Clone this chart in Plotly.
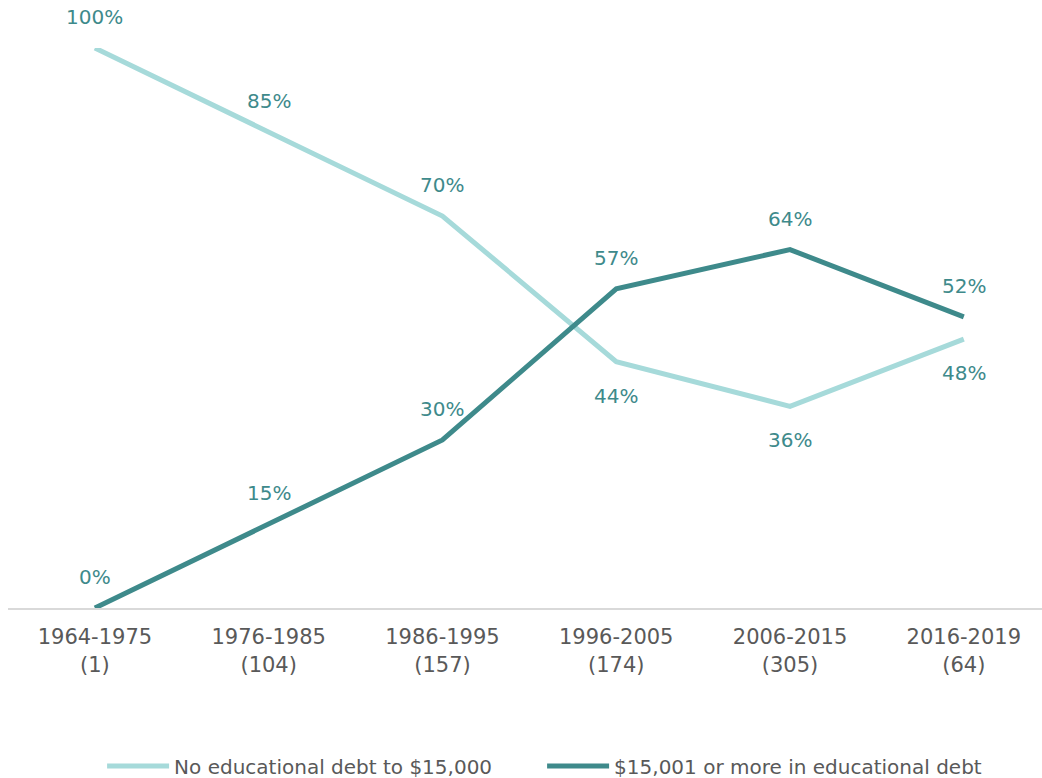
import plotly.graph_objects as go

categories = ["1964-1975<br>(1)", "1976-1985<br>(104)", "1986-1995<br>(157)",
              "1996-2005<br>(174)", "2006-2015<br>(305)", "2016-2019<br>(64)"]
no_debt = [100, 85, 70, 44, 36, 48]
debt_15k = [0, 15, 30, 57, 64, 52]
no_debt_label_side = [1, 1, 1, -1, -1, -1]   # 1 = above, -1 = below
debt_label_side = [1, 1, 1, 1, 1, 1]

light = "#a6dada"
dark = "#3e8a8b"
label_color = "#3e8a8b"
grey = "#595959"
FONT = "DejaVu Sans"

fig = go.Figure()
fig.add_trace(go.Scatter(x=categories, y=no_debt, mode="lines",
                         name="No educational debt to $15,000",
                         line=dict(color=light, width=5), cliponaxis=False))
fig.add_trace(go.Scatter(x=categories, y=debt_15k, mode="lines",
                         name="$15,001 or more in educational debt",
                         line=dict(color=dark, width=5), cliponaxis=False))

for vals, sides in ((no_debt, no_debt_label_side), (debt_15k, debt_label_side)):
    for c, v, s in zip(categories, vals, sides):
        fig.add_annotation(x=c, y=v, text=f"{v}%", showarrow=False,
                           yshift=31 if s > 0 else -34,
                           font=dict(family=FONT, size=20, color=label_color))

fig.update_layout(
    width=1042, height=778,
    margin=dict(l=8, r=0, t=48, b=170, autoexpand=False),
    paper_bgcolor="white", plot_bgcolor="white",
    font=dict(family=FONT, color=grey),
    showlegend=True,
    legend=dict(orientation="h", x=0.091, xanchor="left", y=-0.282, yanchor="middle",
                font=dict(family=FONT, size=20, color=grey), itemwidth=62,
                tracegroupgap=0, entrywidth=363, entrywidthmode="pixels"),
)
fig.update_xaxes(range=[-0.5, 5.45], showgrid=False, showline=True, linecolor="#d9d9d9",
                 linewidth=2, ticks="", automargin=False, ticklabelstandoff=9,
                 tickfont=dict(family=FONT, size=21, color=grey))
fig.update_yaxes(range=[0, 100], visible=False, showgrid=False, zeroline=False,
                 automargin=False)

fig.write_html("out.html", post_script="document.body.style.margin='0';",
               config={"displayModeBar": False})
